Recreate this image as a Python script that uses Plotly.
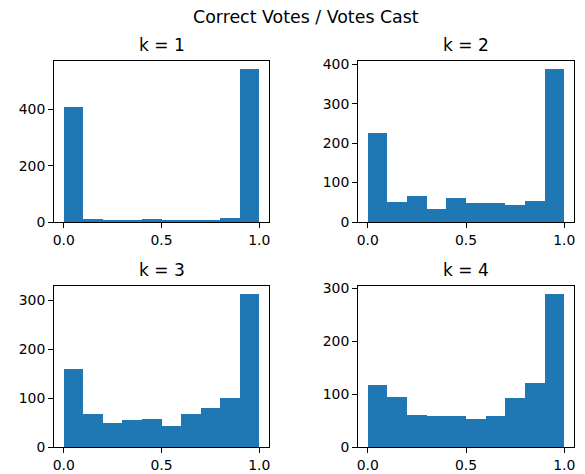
import plotly.graph_objects as go

bin_edges = [0.0, 0.1, 0.2, 0.3, 0.4, 0.5, 0.6, 0.7, 0.8, 0.9, 1.0]
titles = ["k = 1", "k = 2", "k = 3", "k = 4"]
counts_k1 = [408, 11, 4, 4, 11, 8, 4, 8, 15, 545]
counts_k2 = [225, 50, 66, 33, 61, 47, 47, 43, 54, 389]
counts_k3 = [160, 68, 49, 55, 58, 43, 68, 79, 101, 314]
counts_k4 = [117, 95, 61, 59, 58, 53, 58, 92, 121, 290]
yticks_k1 = [0, 200, 400]
yticks_k2 = [0, 100, 200, 300, 400]
yticks_k3 = [0, 100, 200, 300]
yticks_k4 = [0, 100, 200, 300]
xticks = [0.0, 0.5, 1.0]
suptitle = "Correct Votes / Votes Cast"

W, H = 585, 474
all_counts = [counts_k1, counts_k2, counts_k3, counts_k4]
all_yticks = [yticks_k1, yticks_k2, yticks_k3, yticks_k4]

# axes boxes in pixels (left, right, top, bottom)
boxes = [(54, 269, 61, 222), (358, 574, 61, 222), (54, 269, 286, 447), (358, 574, 286, 447)]

centers = [(bin_edges[i] + bin_edges[i + 1]) / 2 for i in range(len(bin_edges) - 1)]
widths = [bin_edges[i + 1] - bin_edges[i] for i in range(len(bin_edges) - 1)]

fig = go.Figure()
font = dict(family="DejaVu Sans", size=13.9, color="black")
title_font = dict(family="DejaVu Sans", size=17, color="black")
annotations = []
for i, (counts, yt, box) in enumerate(zip(all_counts, all_yticks, boxes)):
    n = "" if i == 0 else str(i + 1)
    xa, ya = "x" + n, "y" + n
    fig.add_trace(go.Bar(x=centers, y=counts, width=widths, marker=dict(color="#1f77b4", line=dict(width=0)),
                         xaxis=xa, yaxis=ya, showlegend=False))
    l, r, t, b = box
    xdom = [l / W, r / W]
    ydom = [1 - b / H, 1 - t / H]
    lo, hi = bin_edges[0], bin_edges[-1]
    pad = 0.05 * (hi - lo)
    axcommon = dict(showline=True, linecolor="black", linewidth=1, mirror=True, ticks="outside",
                    ticklen=5, tickwidth=1, tickcolor="black", showgrid=False, zeroline=False,
                    tickfont=font, automargin=False)
    fig.layout["xaxis" + n] = dict(domain=xdom, range=[lo - pad, hi + pad], tickvals=xticks,
                                   tickformat=".1f", anchor=ya, **axcommon)
    fig.layout["yaxis" + n] = dict(domain=ydom, range=[0, max(counts) * 1.05], tickvals=yt,
                                   anchor=xa, **axcommon)
    annotations.append(dict(text=titles[i], x=(xdom[0] + xdom[1]) / 2, y=ydom[1], xref="paper", yref="paper",
                            xanchor="center", yanchor="bottom", yshift=4, showarrow=False,
                            font=title_font))

annotations.append(dict(text=suptitle, x=306 / W, y=1 - 17 / H, xref="paper", yref="paper",
                        xanchor="center", yanchor="middle", showarrow=False,
                        font=dict(family="DejaVu Sans", size=17.4, color="black")))

fig.update_layout(width=W, height=H, autosize=False, margin=dict(l=0, r=0, t=0, b=0, pad=0), bargap=0,
                  plot_bgcolor="white", paper_bgcolor="white", annotations=annotations)

fig.write_html("out.html", config={"displayModeBar": False, "responsive": False},
               post_script="document.body.style.margin='0';document.body.style.padding='0';"
                           "document.body.style.overflow='hidden';")
